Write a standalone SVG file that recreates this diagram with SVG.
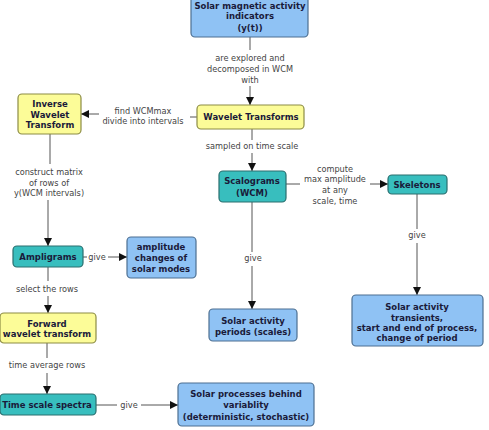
<svg xmlns="http://www.w3.org/2000/svg" width="489" height="430" viewBox="0 0 489 430">
<defs>
<marker id="ah" viewBox="0 0 10 10" refX="10" refY="5" markerWidth="8" markerHeight="8" markerUnits="userSpaceOnUse" orient="auto">
<path d="M0,0 L10,5 L0,10 z" fill="#111"/>
</marker>
<style>
.blue{fill:#8fc2f4;stroke:#4d6f91;stroke-width:1.2}
.yel{fill:#fcfc98;stroke:#8c8c45;stroke-width:1.2}
.teal{fill:#38bebe;stroke:#2a6e6e;stroke-width:1.2}
.nt{font-family:"DejaVu Sans",Verdana,sans-serif;font-weight:bold;font-size:8.5px;fill:#1a1a3a;text-anchor:middle}
.lt{font-family:"DejaVu Sans",Verdana,sans-serif;font-size:8.2px;fill:#444;text-anchor:middle}
.ln{stroke:#555;stroke-width:1;fill:none}
.la{stroke:#555;stroke-width:1;fill:none;marker-end:url(#ah)}
</style>
</defs>
<rect width="489" height="430" fill="#fff"/>
<g id="connectors">
<line class="ln" x1="250" y1="37" x2="250" y2="50"/>
<text class="lt" x="250" y="61">are explored and</text>
<text class="lt" x="250" y="72">decomposed in WCM</text>
<text class="lt" x="250" y="83">with</text>
<line class="la" x1="250" y1="86" x2="250" y2="105"/>
<line class="ln" x1="197" y1="117" x2="190" y2="117"/>
<text class="lt" x="143" y="114">find WCMmax</text>
<text class="lt" x="143" y="124">divide into intervals</text>
<line class="la" x1="99" y1="114" x2="81" y2="114"/>
<line class="ln" x1="50" y1="134" x2="50" y2="164"/>
<text class="lt" x="49" y="175">construct matrix</text>
<text class="lt" x="49" y="186">of rows of</text>
<text class="lt" x="49" y="196">y(WCM intervals)</text>
<line class="la" x1="48" y1="200" x2="48" y2="246"/>
<line class="ln" x1="83" y1="257" x2="87" y2="257"/>
<text class="lt" x="97" y="260">give</text>
<line class="la" x1="108" y1="257" x2="127" y2="257"/>
<line class="ln" x1="48" y1="267" x2="48" y2="281"/>
<text class="lt" x="47" y="292">select the rows</text>
<line class="la" x1="48" y1="296" x2="48" y2="313"/>
<line class="ln" x1="47" y1="343" x2="47" y2="358"/>
<text class="lt" x="47" y="368">time average rows</text>
<line class="la" x1="47" y1="373" x2="47" y2="394"/>
<line class="ln" x1="96" y1="405" x2="117" y2="405"/>
<text class="lt" x="129" y="408">give</text>
<line class="la" x1="141" y1="405" x2="178" y2="405"/>
<line class="ln" x1="252" y1="129" x2="252" y2="140"/>
<text class="lt" x="252" y="149">sampled on time scale</text>
<line class="la" x1="252" y1="153" x2="252" y2="171"/>
<line class="ln" x1="252" y1="202" x2="252" y2="252"/>
<text class="lt" x="253" y="261">give</text>
<line class="la" x1="252" y1="266" x2="252" y2="309"/>
<line class="ln" x1="286" y1="184" x2="300" y2="184"/>
<text class="lt" x="335" y="172">compute</text>
<text class="lt" x="335" y="182">max amplitude</text>
<text class="lt" x="335" y="193">at any</text>
<text class="lt" x="335" y="204">scale, time</text>
<line class="la" x1="370" y1="184" x2="388" y2="184"/>
<line class="ln" x1="417" y1="194" x2="417" y2="229"/>
<text class="lt" x="417" y="238">give</text>
<line class="la" x1="417" y1="243" x2="417" y2="295"/>
</g>
<g id="n-indicators">
<rect class="blue" x="191" y="-4" width="117" height="41" rx="4"/>
<text class="nt" x="250" y="9">Solar magnetic activity</text>
<text class="nt" x="250" y="19">indicators</text>
<text class="nt" x="250" y="31">(y(t))</text>
</g>
<g id="n-wavelet">
<rect class="yel" x="197" y="105" width="107" height="24" rx="4"/>
<text class="nt" x="251" y="120">Wavelet Transforms</text>
</g>
<g id="n-inverse">
<rect class="yel" x="18" y="94" width="63" height="40" rx="4"/>
<text class="nt" x="50" y="107">Inverse</text>
<text class="nt" x="50" y="118">Wavelet</text>
<text class="nt" x="50" y="128">Transform</text>
</g>
<g id="n-ampligrams">
<rect class="teal" x="13" y="246" width="70" height="21" rx="4"/>
<text class="nt" x="48" y="260">Ampligrams</text>
</g>
<g id="n-amplitude">
<rect class="blue" x="127" y="237" width="69" height="41" rx="4"/>
<text class="nt" x="161" y="250">amplitude</text>
<text class="nt" x="161" y="261">changes of</text>
<text class="nt" x="161" y="272">solar modes</text>
</g>
<g id="n-forward">
<rect class="yel" x="0" y="313" width="96" height="30" rx="4"/>
<text class="nt" x="47" y="327">Forward</text>
<text class="nt" x="47" y="337">wavelet transform</text>
</g>
<g id="n-timescale">
<rect class="teal" x="0" y="394" width="96" height="21" rx="4"/>
<text class="nt" x="47" y="408">Time scale spectra</text>
</g>
<g id="n-processes">
<rect class="blue" x="178" y="383" width="136" height="43" rx="4"/>
<text class="nt" x="246" y="397">Solar processes behind</text>
<text class="nt" x="246" y="408">variablity</text>
<text class="nt" x="246" y="420">(deterministic, stochastic)</text>
</g>
<g id="n-scalograms">
<rect class="teal" x="219" y="171" width="67" height="31" rx="4"/>
<text class="nt" x="252" y="184">Scalograms</text>
<text class="nt" x="252" y="196">(WCM)</text>
</g>
<g id="n-periods">
<rect class="blue" x="209" y="309" width="88" height="32" rx="4"/>
<text class="nt" x="253" y="324">Solar activity</text>
<text class="nt" x="253" y="335">periods (scales)</text>
</g>
<g id="n-skeletons">
<rect class="teal" x="388" y="175" width="59" height="19" rx="4"/>
<text class="nt" x="417" y="188">Skeletons</text>
</g>
<g id="n-transients">
<rect class="blue" x="352" y="295" width="131" height="51" rx="4"/>
<text class="nt" x="417" y="310">Solar activity</text>
<text class="nt" x="417" y="321">transients,</text>
<text class="nt" x="417" y="331">start and end of process,</text>
<text class="nt" x="417" y="341">change of period</text>
</g>
</svg>
